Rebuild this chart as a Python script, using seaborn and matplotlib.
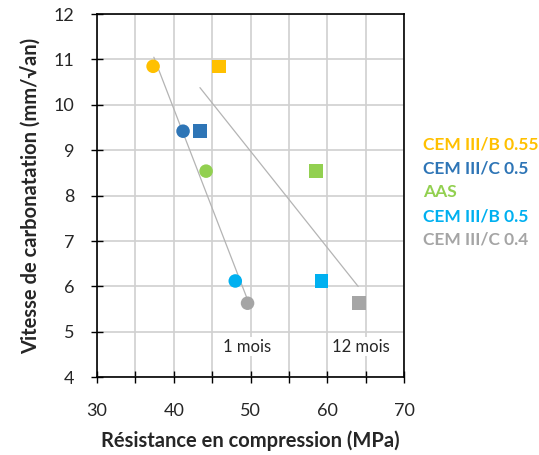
import pandas as pd
import matplotlib
matplotlib.use("Agg")
import matplotlib.pyplot as plt
import seaborn as sns

# data
ciments = ['CEM III/B 0.55', 'CEM III/C 0.5', 'AAS', 'CEM III/B 0.5', 'CEM III/C 0.4']
couleurs = ['#FFC000', '#2E75B6', '#92D050', '#00B0F0', '#A5A5A5']
resistance_1m = [37.3, 41.2, 44.2, 48.0, 49.6]
resistance_12m = [45.9, 43.4, 58.5, 59.2, 64.1]
vitesse = [10.85, 9.42, 8.54, 6.12, 5.63]

# grey guide lines (start/end points)
ligne_1m_x = [37.4, 49.5]
ligne_1m_y = [11.05, 5.75]
ligne_12m_x = [43.4, 64.0]
ligne_12m_y = [10.38, 6.0]

x_ticks = list(range(30, 71, 5))
y_ticks = list(range(4, 13))

df = pd.DataFrame({
    'ciment': ciments * 2,
    'resistance': resistance_1m + resistance_12m,
    'vitesse': vitesse * 2,
    'age': ['1 mois'] * 5 + ['12 mois'] * 5,
})

sns.set_style('white')
plt.rcParams['font.family'] = ['Lato', 'DejaVu Sans']

fig = plt.figure(figsize=(5.39, 4.55), dpi=100)
ax = fig.add_axes([0.18, 0.171, 0.57, 0.798])

ax.plot(ligne_1m_x, ligne_1m_y, color='#B4B4B4', lw=0.9, zorder=2)
ax.plot(ligne_12m_x, ligne_12m_y, color='#B4B4B4', lw=0.9, zorder=2)

sns.scatterplot(data=df, x='resistance', y='vitesse', hue='ciment', style='age',
                palette=dict(zip(ciments, couleurs)),
                markers={'1 mois': 'o', '12 mois': 's'},
                s=95, linewidth=0, legend=False, ax=ax, zorder=3)

ax.set_xlim(30, 70)
ax.set_ylim(4, 12)
ax.set_xticks(x_ticks)
ax.set_xticklabels([str(v) if v % 10 == 0 else '' for v in x_ticks])
ax.set_yticks(y_ticks)
ax.grid(True, which='major', axis='both', color='#D0D0D0', lw=1.2, zorder=0)
ax.set_axisbelow(True)
ax.tick_params(axis='both', direction='inout', length=9, width=1, color='black',
               labelsize=13, bottom=True, left=True)
ax.tick_params(axis='x', pad=14)
ax.tick_params(axis='y', pad=12)
for sp in ax.spines.values():
    sp.set_color('black')
    sp.set_linewidth(1.2)

ax.set_xlabel('Résistance en compression (MPa)', fontsize=14.5, fontweight='bold', labelpad=8)
ax.set_ylabel('Vitesse de carbonatation (mm/√an)', fontsize=14.5, fontweight='bold', labelpad=8)

ax.text(49.5, 4.67, '1 mois', fontsize=12, ha='center', va='center',
        bbox=dict(facecolor='white', edgecolor='none', pad=1), zorder=4)
ax.text(64.3, 4.67, '12 mois', fontsize=12, ha='center', va='center',
        bbox=dict(facecolor='white', edgecolor='none', pad=1), zorder=4)

for i, (nom, c) in enumerate(zip(ciments, couleurs)):
    fig.text(0.785, 1 - (145 + i * 23.7) / 455, nom, color=c, fontsize=12.5,
             fontweight='bold', va='center', ha='left')

fig.savefig('out.png', dpi=100)
